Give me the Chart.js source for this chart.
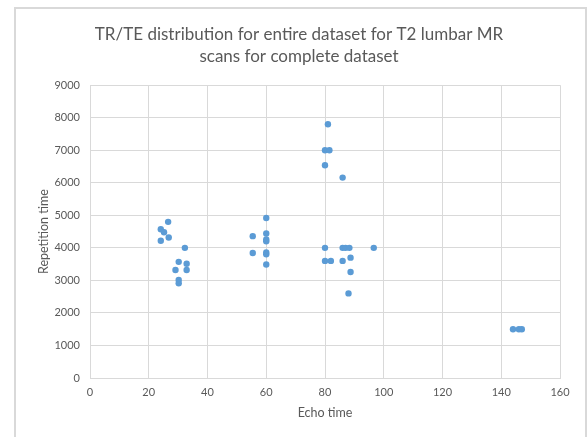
<!DOCTYPE html>
<html>
<head>
<meta charset="utf-8">
<script src="https://cdn.jsdelivr.net/npm/chart.js@4/dist/chart.umd.min.js"></script>
<style>
  body { margin: 0; background: #fff; }
  #wrap { position: relative; width: 588px; height: 437px; }
  #frame { position: absolute; left: 14px; top: 7px; width: 573px; height: 440px;
           border: 2px solid #d9d9d9; border-bottom: none; box-sizing: border-box; }
  canvas { position: absolute; left: 0; top: 0; }
</style>
</head>
<body>
<div id="wrap">
  <div id="frame"></div>
  <canvas id="myChart" width="588" height="437"></canvas>
</div>
<script>
// Valores: echo time (TE) y repetition time (TR)
const echoTimes = [26.6, 24.1, 25.2, 26.8, 24.1, 32.3, 30.2, 32.9, 29.1, 32.9, 30.2, 30.2,
                   60, 60, 60, 60, 60, 60, 60, 55.4, 55.4,
                   81, 80, 81.5, 80, 86,
                   80, 86, 87, 88.3, 96.6, 80, 82, 86, 88.7, 88.7, 88,
                   144, 146, 147];
const repetitionTimes = [4800, 4570, 4480, 4320, 4220, 4000, 3570, 3510, 3320, 3320, 3010, 2910,
                         4920, 4440, 4260, 4200, 3860, 3800, 3490, 4360, 3840,
                         7800, 7000, 7000, 6540, 6160,
                         4000, 4000, 4000, 4000, 4000, 3600, 3600, 3600, 3700, 3260, 2600,
                         1500, 1500, 1500];

const titulo = ['TR/TE distribution for entire dataset for T2 lumbar MR', 'scans for complete dataset'];
const tituloX = 'Echo time';
const tituloY = 'Repetition time';

const puntos = echoTimes.map((te, i) => ({ x: te, y: repetitionTimes[i] }));

const gris = '#595959';
const fuente = "Lato, 'Open Sans', sans-serif";

const ctx = document.getElementById('myChart');

new Chart(ctx, {
  type: 'scatter',
  data: {
    datasets: [{
      data: puntos,
      backgroundColor: '#5b9bd5',
      borderWidth: 0,
      pointRadius: 3.2,
      pointHoverRadius: 3.2
    }]
  },
  options: {
    responsive: false,
    animation: false,
    layout: { padding: { left: 38, right: 28, top: 0, bottom: 0 } },
    plugins: {
      legend: { display: false },
      tooltip: { enabled: false },
      title: {
        display: true,
        text: titulo,
        color: gris,
        font: { family: fuente, size: 17, weight: 'normal', lineHeight: 1.3 },
        padding: { top: 23, bottom: 18 }
      }
    },
    scales: {
      x: {
        min: 0, max: 160,
        ticks: { stepSize: 20, color: gris, font: { family: fuente, size: 11 }, padding: 8,
                 callback: (v) => String(v) },
        grid: { color: '#d9d9d9', drawTicks: false },
        border: { color: '#d9d9d9' },
        title: { display: true, text: tituloX, color: gris,
                 font: { family: fuente, size: 12.5, lineHeight: 1.2 }, padding: { top: 4, bottom: 16.5 } },
        afterFit: (scale) => { scale.height = 59; }
      },
      y: {
        min: 0, max: 9000,
        ticks: { stepSize: 1000, color: gris, font: { family: fuente, size: 11 }, padding: 10,
                 callback: (v) => String(v) },
        grid: { color: '#d9d9d9', drawTicks: false },
        border: { color: '#d9d9d9' },
        title: { display: true, text: tituloY, color: gris,
                 font: { family: fuente, size: 12.5, lineHeight: 1.2 }, padding: { top: -1.5, bottom: 4 } },
        afterFit: (scale) => { scale.width = 52; }
      }
    }
  }
});
</script>
</body>
</html>
